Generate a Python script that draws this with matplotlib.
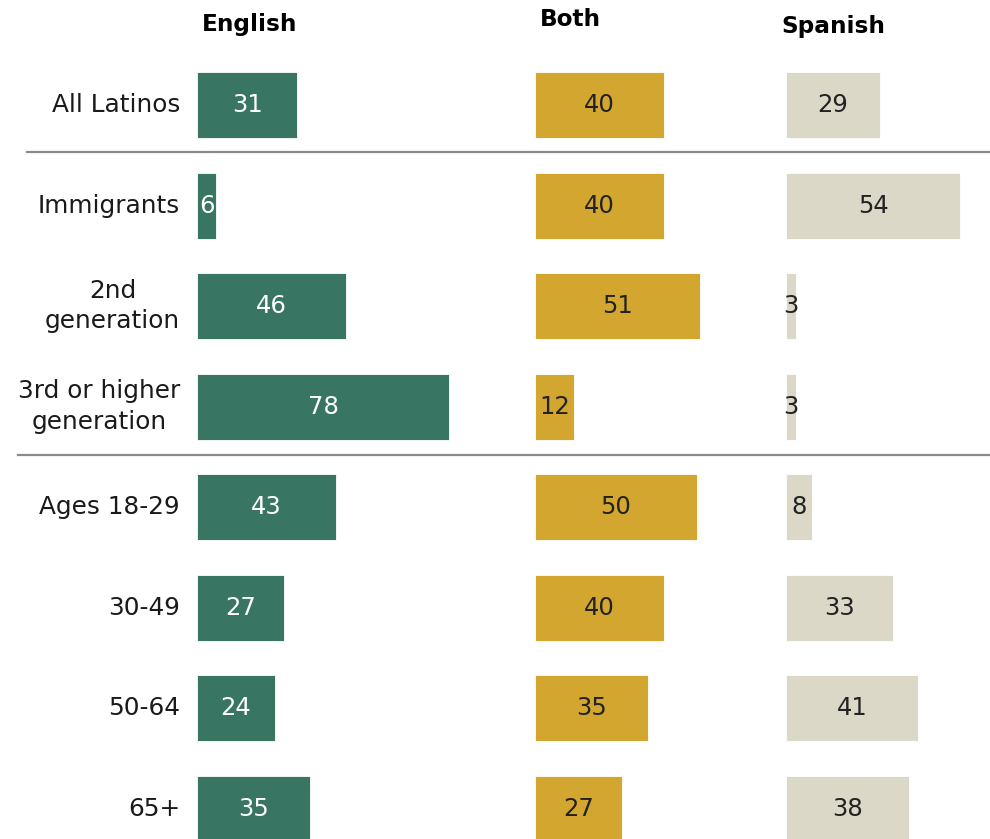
import matplotlib.pyplot as plt
import matplotlib.transforms as mtransforms
from matplotlib.lines import Line2D

# data ---------------------------------------------------------------
groups = ['All Latinos', 'Immigrants', '2nd\ngeneration',
          '3rd or higher\ngeneration', 'Ages 18-29', '30-49', '50-64', '65+']
english = [31, 6, 46, 78, 43, 27, 24, 35]
both = [40, 40, 51, 12, 50, 40, 35, 27]
spanish = [29, 54, 3, 3, 8, 33, 41, 38]
headers = ['English', 'Both', 'Spanish']
dividers = [0.47, 3.48]

plt.rcParams['font.family'] = ['DejaVu Sans']

W, H = 990, 839
fig = plt.figure(figsize=(W / 100, H / 100), dpi=100)

px_per_pt = 3.23          # pixels per percentage point
row_gap = 100.57          # pixels between rows
first_row = 105           # pixel y of first row centre
ylim = ((H - first_row) / row_gap, -first_row / row_gap)

# one axes per column: (left px, width px, values, colour, label colour)
cols = [
    (197, 270, english, '#387563', 'white'),
    (535, 230, both, '#d3a62f', '#222222'),
    (786, 204, spanish, '#dbd8c8', '#222222'),
]

rows = list(range(len(groups)))
axes = []
for left, width, vals, color, tcolor in cols:
    ax = fig.add_axes([left / W, 0, width / W, 1])
    ax.barh(rows, vals, height=0.656, left=0, color=color,
            edgecolor='white', linewidth=0.6)
    for i, v in zip(rows, vals):
        ax.text(v / 2, i, str(v), ha='center', va='center',
                fontsize=17.5, color=tcolor)
    ax.set_xlim(0, width / px_per_pt)
    ax.set_ylim(*ylim)
    ax.axis('off')
    axes.append(ax)

# row labels, right aligned against the English bars
ax0 = axes[0]
for i, g in zip(rows, groups):
    ax0.text(-17 / px_per_pt, i, g, ha='right', va='center',
             multialignment='center', fontsize=17.8, color='#1a1a1a',
             linespacing=1.35)

# column headers
fig.text(250 / W, 1 - 24 / H, headers[0], ha='center', va='center',
         fontsize=16.7, fontweight='bold')
fig.text(570 / W, 1 - 20 / H, headers[1], ha='center', va='center',
         fontsize=16.7, fontweight='bold')
fig.text(833 / W, 1 - 27 / H, headers[2], ha='center', va='center',
         fontsize=16.7, fontweight='bold')

# gray dividers between the groups
trans = mtransforms.blended_transform_factory(fig.transFigure, ax0.transData)
for y, x0 in zip(dividers, [27, 18]):
    fig.add_artist(Line2D([x0 / W, 1], [y, y], transform=trans,
                          color='#8a8a8a', linewidth=1.6))

fig.savefig('out.png', dpi=100, facecolor='white')
